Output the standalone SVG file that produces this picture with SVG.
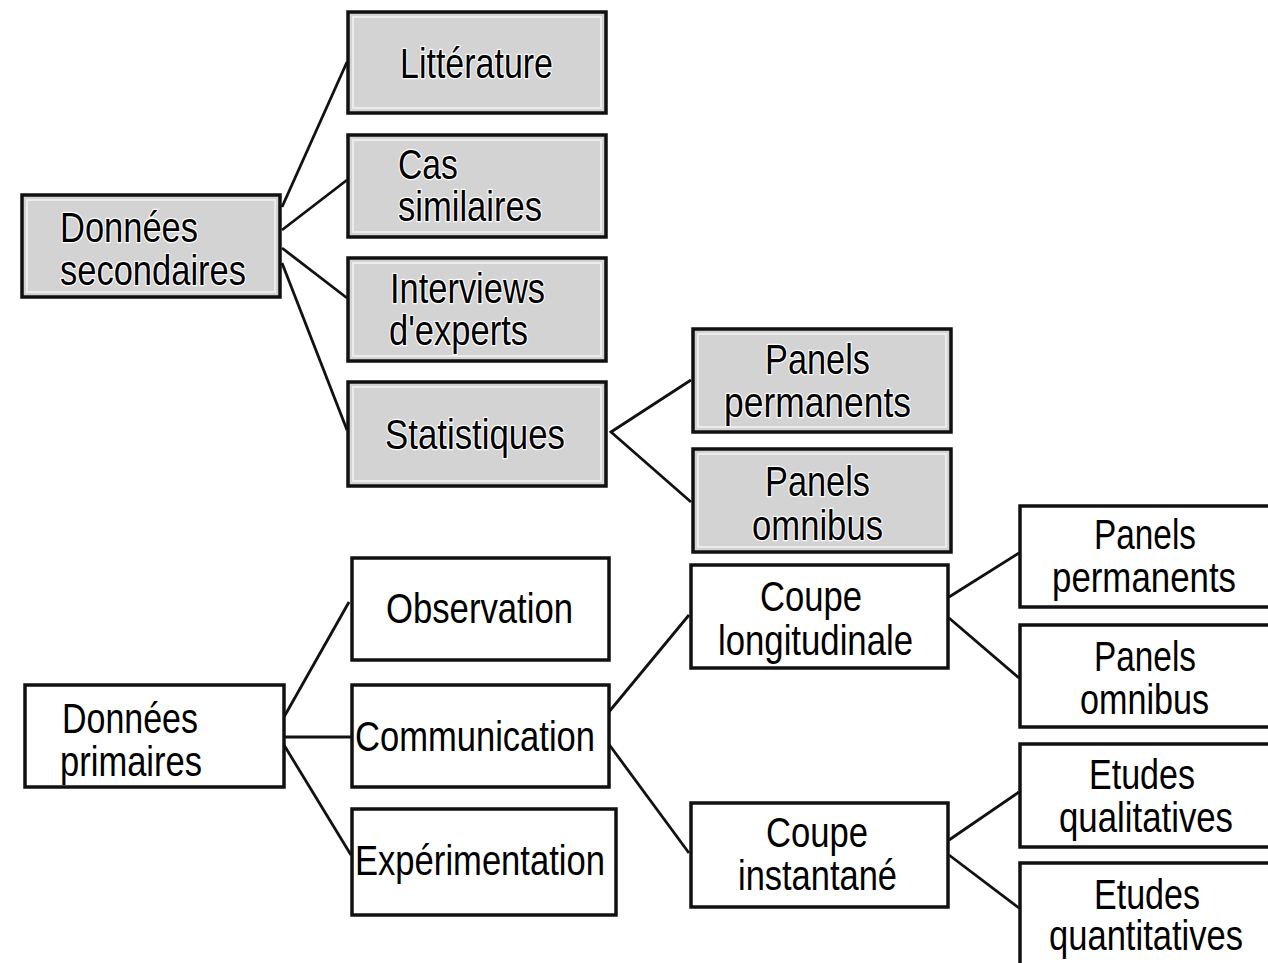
<svg xmlns="http://www.w3.org/2000/svg" width="1268" height="963" viewBox="0 0 1268 963">
<style>
.g{fill:#d3d3d3;stroke:#111;stroke-width:3.5}
.gi{fill:none;stroke:#ececec;stroke-width:2}
.w{fill:#fff;stroke:#111;stroke-width:3.5}
.t{font-family:"Liberation Sans",Arial,sans-serif;font-size:42px;fill:#000}
.tg{font-family:"Liberation Sans",Arial,sans-serif;font-size:42px;fill:#000;stroke:#fff;stroke-width:2.5;paint-order:stroke;stroke-linejoin:round}
.c{fill:none;stroke:#111;stroke-width:2.8}
</style>
<rect width="1268" height="963" fill="#fff"/>
<g id="connectors">
<line class="c" x1="282" y1="207" x2="347" y2="62"/>
<line class="c" x1="282" y1="230" x2="347" y2="180"/>
<line class="c" x1="282" y1="248" x2="347" y2="298"/>
<line class="c" x1="282" y1="263" x2="347" y2="430"/>
<polyline class="c" points="691,380 611,432 691,502"/>
<line class="c" x1="284" y1="717" x2="349" y2="602"/>
<line class="c" x1="284" y1="737" x2="351" y2="737"/>
<line class="c" x1="284" y1="745" x2="351" y2="855"/>
<line class="c" x1="608" y1="713" x2="689" y2="615"/>
<line class="c" x1="608" y1="743" x2="689" y2="853"/>
<line class="c" x1="949" y1="597" x2="1019" y2="553"/>
<line class="c" x1="949" y1="618" x2="1019" y2="678"/>
<line class="c" x1="949" y1="840" x2="1019" y2="792"/>
<line class="c" x1="949" y1="855" x2="1019" y2="908"/>
</g>
<g id="donnees-secondaires">
<rect class="g" x="22" y="195" width="258" height="102"/>
<rect class="gi" x="27" y="200" width="248" height="92"/>
<text class="tg" x="60" y="242" textLength="138" lengthAdjust="spacingAndGlyphs">Données</text>
<text class="tg" x="60" y="285" textLength="186" lengthAdjust="spacingAndGlyphs">secondaires</text>
</g>
<g id="litterature">
<rect class="g" x="348" y="12" width="258" height="101"/>
<rect class="gi" x="353" y="17" width="248" height="91"/>
<text class="tg" x="400" y="78" textLength="153" lengthAdjust="spacingAndGlyphs">Littérature</text>
</g>
<g id="cas-similaires">
<rect class="g" x="348" y="135" width="258" height="102"/>
<rect class="gi" x="353" y="140" width="248" height="92"/>
<text class="tg" x="398" y="179" textLength="60" lengthAdjust="spacingAndGlyphs">Cas</text>
<text class="tg" x="398" y="221" textLength="144" lengthAdjust="spacingAndGlyphs">similaires</text>
</g>
<g id="interviews">
<rect class="g" x="348" y="258" width="258" height="103"/>
<rect class="gi" x="353" y="263" width="248" height="93"/>
<text class="tg" x="390" y="303" textLength="155" lengthAdjust="spacingAndGlyphs">Interviews</text>
<text class="tg" x="389" y="345" textLength="139" lengthAdjust="spacingAndGlyphs">d'experts</text>
</g>
<g id="statistiques">
<rect class="g" x="348" y="382" width="258" height="104"/>
<rect class="gi" x="353" y="387" width="248" height="94"/>
<text class="tg" x="385" y="449" textLength="180" lengthAdjust="spacingAndGlyphs">Statistiques</text>
</g>
<g id="panels-permanents-sec">
<rect class="g" x="693" y="329" width="258" height="103"/>
<rect class="gi" x="698" y="334" width="248" height="93"/>
<text class="tg" x="765" y="374" textLength="105" lengthAdjust="spacingAndGlyphs">Panels</text>
<text class="tg" x="724" y="417" textLength="187" lengthAdjust="spacingAndGlyphs">permanents</text>
</g>
<g id="panels-omnibus-sec">
<rect class="g" x="693" y="449" width="258" height="103"/>
<rect class="gi" x="698" y="454" width="248" height="93"/>
<text class="tg" x="765" y="496" textLength="105" lengthAdjust="spacingAndGlyphs">Panels</text>
<text class="tg" x="752" y="540" textLength="131" lengthAdjust="spacingAndGlyphs">omnibus</text>
</g>
<g id="donnees-primaires">
<rect class="w" x="25" y="685" width="259" height="102"/>
<text class="t" x="62" y="733" textLength="136" lengthAdjust="spacingAndGlyphs">Données</text>
<text class="t" x="60" y="776" textLength="142" lengthAdjust="spacingAndGlyphs">primaires</text>
</g>
<g id="observation">
<rect class="w" x="352" y="558" width="257" height="102"/>
<text class="t" x="386" y="623" textLength="187" lengthAdjust="spacingAndGlyphs">Observation</text>
</g>
<g id="communication">
<rect class="w" x="352" y="685" width="257" height="102"/>
<text class="t" x="355" y="751" textLength="240" lengthAdjust="spacingAndGlyphs">Communication</text>
</g>
<g id="experimentation">
<rect class="w" x="352" y="809" width="264" height="106"/>
<text class="t" x="355" y="875" textLength="250" lengthAdjust="spacingAndGlyphs">Expérimentation</text>
</g>
<g id="coupe-longitudinale">
<rect class="w" x="691" y="565" width="257" height="103"/>
<text class="t" x="760" y="611" textLength="102" lengthAdjust="spacingAndGlyphs">Coupe</text>
<text class="t" x="718" y="655" textLength="195" lengthAdjust="spacingAndGlyphs">longitudinale</text>
</g>
<g id="coupe-instantane">
<rect class="w" x="691" y="803" width="257" height="104"/>
<text class="t" x="766" y="847" textLength="102" lengthAdjust="spacingAndGlyphs">Coupe</text>
<text class="t" x="738" y="890" textLength="159" lengthAdjust="spacingAndGlyphs">instantané</text>
</g>
<g id="panels-permanents">
<rect class="w" x="1020" y="506" width="256" height="101"/>
<text class="t" x="1094" y="549" textLength="102" lengthAdjust="spacingAndGlyphs">Panels</text>
<text class="t" x="1052" y="592" textLength="184" lengthAdjust="spacingAndGlyphs">permanents</text>
</g>
<g id="panels-omnibus">
<rect class="w" x="1020" y="625" width="256" height="102"/>
<text class="t" x="1094" y="671" textLength="102" lengthAdjust="spacingAndGlyphs">Panels</text>
<text class="t" x="1080" y="714" textLength="129" lengthAdjust="spacingAndGlyphs">omnibus</text>
</g>
<g id="etudes-qualitatives">
<rect class="w" x="1020" y="744" width="256" height="103"/>
<text class="t" x="1089" y="789" textLength="106" lengthAdjust="spacingAndGlyphs">Etudes</text>
<text class="t" x="1059" y="832" textLength="174" lengthAdjust="spacingAndGlyphs">qualitatives</text>
</g>
<g id="etudes-quantitatives">
<rect class="w" x="1020" y="863" width="256" height="120"/>
<text class="t" x="1094" y="909" textLength="106" lengthAdjust="spacingAndGlyphs">Etudes</text>
<text class="t" x="1049" y="950" textLength="194" lengthAdjust="spacingAndGlyphs">quantitatives</text>
</g>
</svg>
